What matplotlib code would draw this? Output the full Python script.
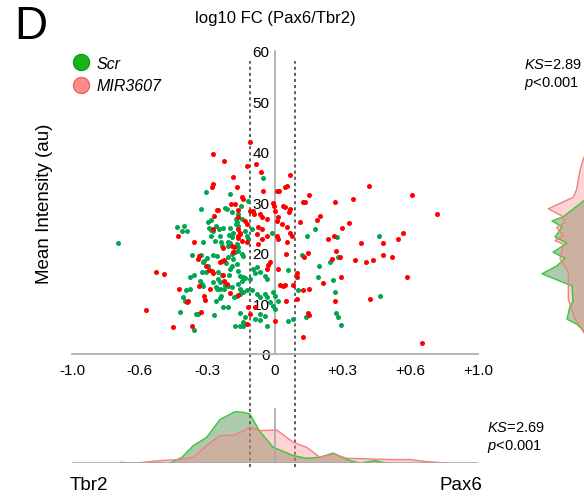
import numpy as np
import matplotlib
matplotlib.use('Agg')
import matplotlib.pyplot as plt
from matplotlib.lines import Line2D

plt.rcParams['font.family'] = 'Liberation Sans'
plt.rcParams['mathtext.fontset'] = 'custom'
plt.rcParams['mathtext.rm'] = 'Liberation Sans'
plt.rcParams['mathtext.it'] = 'Liberation Sans:italic'

# x axis: tick labels are evenly spaced although their values are not
tick_vals = [-1.0, -0.6, -0.3, 0.0, 0.3, 0.6, 1.0]
tick_labels = ['-1.0', '-0.6', '-0.3', '0', '+0.3', '+0.6', '+1.0']
tick_pos = [-3, -2, -1, 0, 1, 2, 3]
y_ticks = [0, 10, 20, 30, 40, 50, 60]
cutoffs = [-0.11, 0.09]

# Scr cells: log10 FC (Pax6/Tbr2) vs mean intensity
scr_x = [-0.729, -0.304, -0.198, -0.328, -0.222, -0.211, -0.192, -0.297, -0.282, -0.173,
         -0.433, -0.403, -0.411, -0.390, -0.294, -0.284, -0.273, -0.261, -0.247, -0.232,
         -0.199, -0.187, -0.202, -0.173, -0.163, -0.282, -0.266, -0.244, -0.192, -0.320,
         -0.239, -0.207, -0.236, -0.199, -0.210, -0.170, -0.163, -0.369, -0.328, -0.313,
         -0.300, -0.320, -0.273, -0.258, -0.207, -0.185, -0.192, -0.177, -0.217, -0.199,
         -0.192, -0.170, -0.163, -0.298, -0.325, -0.306, -0.251, -0.236, -0.202, -0.377,
         -0.359, -0.332, -0.325, -0.273, -0.251, -0.244, -0.222, -0.207, -0.192, -0.396,
         -0.377, -0.318, -0.261, -0.258, -0.244, -0.226, -0.180, -0.170, -0.406, -0.399,
         -0.261, -0.244, -0.241, -0.421, -0.350, -0.340, -0.269, -0.229, -0.207, -0.359,
         -0.177, -0.052, -0.121, -0.152, -0.163, -0.145, -0.170, -0.103, -0.133, -0.118,
         -0.125, -0.015, -0.163, -0.148, -0.140, -0.155, -0.140, -0.133, -0.148, -0.111,
         -0.096, -0.081, -0.089, -0.066, -0.044, -0.034, -0.163, -0.155, -0.140, -0.125,
         -0.155, -0.103, -0.081, -0.066, -0.044, -0.037, -0.008, 0.000, 0.059, 0.103,
         0.015, -0.022, -0.008, 0.000, -0.155, -0.133, -0.066, -0.044, -0.089, -0.037,
         0.059, 0.081, -0.155, 0.177, 0.143, 0.276, 0.461, 0.118, 0.244, 0.280,
         0.196, 0.190, 0.256, 0.266, 0.466, 0.136, 0.269, 0.278, 0.291, -0.140,
         -0.143, -0.066]
scr_y = [21.9, 32.0, 31.6, 28.7, 28.8, 28.7, 28.0, 26.0, 26.4, 26.7,
         25.0, 25.3, 24.2, 24.2, 24.8, 24.4, 24.2, 25.2, 24.6, 24.8,
         24.8, 23.9, 23.5, 25.6, 25.2, 23.4, 22.4, 23.4, 23.1, 22.1,
         22.1, 22.1, 21.4, 21.9, 21.3, 21.7, 21.1, 19.5, 19.5, 18.4,
         18.9, 18.2, 19.5, 19.4, 19.1, 18.8, 19.7, 20.1, 18.0, 16.8,
         17.4, 17.8, 16.4, 17.4, 16.1, 16.1, 16.2, 15.6, 15.6, 15.1,
         15.6, 14.4, 13.8, 14.2, 14.8, 14.2, 13.5, 13.3, 13.1, 12.5,
         12.8, 13.3, 13.1, 12.7, 12.8, 12.7, 11.2, 11.5, 11.3, 10.5,
         10.5, 11.0, 11.5, 8.2, 7.8, 7.8, 7.6, 9.2, 9.2, 4.7,
         5.4, 34.8, 30.3, 29.3, 27.7, 26.7, 26.0, 24.6, 24.2, 22.7,
         23.4, 24.0, 20.4, 19.7, 19.4, 15.4, 15.2, 14.9, 14.4, 14.8,
         16.8, 17.1, 15.9, 16.1, 15.4, 14.8, 13.8, 12.8, 12.1, 12.5,
         11.8, 12.5, 11.8, 11.2, 11.8, 11.2, 12.1, 11.5, 16.6, 12.5,
         10.5, 10.2, 9.5, 8.8, 8.0, 7.2, 7.8, 7.5, 6.8, 5.4,
         6.5, 6.8, 5.4, 24.6, 23.3, 23.2, 23.4, 19.6, 18.1, 19.2,
         17.3, 15.1, 14.6, 12.1, 11.5, 7.2, 8.0, 7.2, 5.7, 5.4,
         6.3, 6.7]

# MIR3607 cells
mir_x = [-0.527, -0.490, -0.571, -0.452, -0.276, -0.226, -0.187, -0.276, -0.280, -0.167,
         -0.194, -0.179, -0.258, -0.251, -0.165, -0.270, -0.165, -0.430, -0.276, -0.163,
         -0.359, -0.155, -0.229, -0.189, -0.180, -0.187, -0.335, -0.340, -0.244, -0.236,
         -0.226, -0.306, -0.291, -0.280, -0.273, -0.232, -0.226, -0.211, -0.424, -0.335,
         -0.288, -0.199, -0.391, -0.384, -0.313, -0.310, -0.329, -0.369, -0.111, -0.083,
         -0.125, -0.062, 0.066,
         0.010, 0.018, 0.044, 0.052, -0.052, -0.148, -0.140, -0.010, -0.003, 0.037,
         0.044, 0.066, 0.062, 0.125, -0.111, -0.096, -0.092, -0.066, -0.059, -0.037,
         0.000, 0.015, 0.008, -0.133, -0.125, 0.030, 0.052, -0.074, -0.059, 0.111,
         -0.165, -0.155, -0.165, -0.081, -0.059, -0.037, 0.066, 0.074, 0.008, 0.015,
         -0.148, -0.125, -0.077, 0.052, 0.049, -0.037, -0.030, -0.022, 0.015, 0.096,
         0.096, -0.163, 0.022, 0.037, 0.044, 0.081, 0.049, 0.096, -0.118, -0.089,
         -0.111, 0.000, -0.125, 0.125, 0.416, 0.608, 0.755, 0.151, 0.133, 0.266,
         0.347, 0.187, 0.199, 0.328, 0.298, 0.236, 0.263, 0.381, 0.568, 0.546,
         0.480, 0.270, 0.251, 0.145, 0.130, 0.288, 0.354, 0.403, 0.435, 0.477,
         0.517, 0.214, 0.294, 0.586, 0.267, 0.422, 0.152, 0.123, 0.148, 0.152, 0.670]
mir_y = [16.1, 15.7, 8.6, 5.3, 39.6, 38.1, 35.0, 33.6, 33.1, 33.1,
         29.6, 29.6, 28.5, 28.5, 28.5, 27.3, 27.0, 23.4, 24.6, 22.9,
         22.1, 23.7, 20.9, 21.4, 21.1, 20.1, 19.3, 18.8, 18.1, 18.4,
         18.6, 17.3, 16.6, 16.4, 15.9, 15.6, 14.4, 13.8, 12.8, 13.3,
         12.7, 12.0, 10.2, 10.5, 11.5, 10.6, 8.2, 5.5, 42.0, 37.6,
         37.1, 36.0, 35.4,
         32.3, 32.3, 33.0, 33.3, 32.2, 31.0, 30.7, 29.8, 29.3, 29.3,
         29.0, 28.7, 28.0, 30.0, 28.3, 28.3, 27.7, 27.7, 27.0, 26.7,
         28.3, 27.0, 26.3, 26.3, 25.7, 25.7, 25.0, 25.0, 24.7, 26.0,
         24.7, 24.0, 23.4, 23.7, 22.7, 23.4, 24.0, 23.4, 23.4, 22.7,
         22.4, 22.2, 21.7, 22.1, 19.7, 16.8, 17.6, 18.1, 16.8, 15.9,
         15.2, 11.6, 13.5, 13.3, 13.5, 13.6, 10.4, 10.8, 9.2, 9.2,
         7.8, 6.5, 5.9, 3.2, 33.2, 31.4, 27.7, 31.4, 30.1, 30.0,
         30.7, 26.5, 27.2, 25.8, 24.8, 22.7, 23.4, 21.9, 24.0, 22.7,
         21.9, 20.4, 18.8, 19.9, 19.1, 19.1, 18.6, 18.1, 18.6, 19.5,
         19.1, 14.0, 15.2, 15.1, 10.4, 10.8, 12.8, 12.6, 8.0, 7.7, 2.1]

# marginal distributions of log10 FC (bottom)
scr_fc_x = [-0.710, -0.647, -0.465, -0.413, -0.362, -0.303, -0.244, -0.177, -0.140, -0.111,
            -0.070, -0.008, 0.081, 0.140, 0.199, 0.258, 0.281, 0.332, 0.376, 0.443, 0.494, 0.524]
scr_fc_h = [1, 0.3, 0.3, 6, 17.7, 26, 43.7, 51.7, 51, 49.3,
            32.7, 16, 7.7, 5, 6, 10.3, 7.7, 2.7, 0.3, 2.7, 0.3, 0]
mir_fc_x = [-0.617, -0.509, -0.421, -0.362, -0.303, -0.244, -0.177, -0.111, -0.066, 0.008,
            0.081, 0.140, 0.199, 0.258, 0.317, 0.435, 0.524, 0.598, 0.696, 0.814]
mir_fc_h = [0.3, 2.7, 3.7, 6, 17.7, 27.7, 28.3, 36, 32.7, 33.3,
            21, 16, 6, 9.3, 5, 4.3, 3.7, 3.7, 1.7, 0.3]

# marginal distributions of intensity (right, mostly cut off)
mir_int_y = [40.5, 38.6, 36.3, 32.6, 31.0, 28.7, 27.3, 26.0, 25.0, 23.4,
             22.4, 21.7, 18.8, 16.1, 10.8, 6.8, 5.5, 4.3, 3.0]
mir_int_h = [12, 16.7, 20, 23.3, 26.7, 51.7, 38.3, 35, 43.3, 36.7,
             45, 36.7, 40, 31.7, 31.7, 25, 20, 16.7, 12]
scr_int_y = [31.0, 29.7, 27.1, 26.3, 25.1, 23.1, 21.9, 20.1, 18.9, 17.4,
             15.8, 13.4, 10.2, 9.4, 6.8, 5.8, 4.6, 3.5]
scr_int_h = [12, 20, 37, 48, 38, 45, 33, 47, 35, 43,
             58, 28, 27, 30, 33, 23, 17, 12]


def fwd(v):
    return np.interp(v, tick_vals, tick_pos)


def inv(p):
    return np.interp(p, tick_pos, tick_vals)


W, H = 584, 502
fig = plt.figure(figsize=(W / 100, H / 100), dpi=100)

grey = '#a8a8a8'
green_pt = '#00a650'
red_pt = '#ff0000'

# main scatter
ax = fig.add_axes([72 / W, (H - 354.5) / H, 406 / W, 302.5 / H])
ax.set_xscale('function', functions=(fwd, inv))
ax.set_xlim(-1, 1)
ax.set_ylim(0, 60)
ax.scatter(scr_x, scr_y, s=13, color=green_pt, linewidths=0, zorder=3)
ax.scatter(mir_x, mir_y, s=13, color=red_pt, linewidths=0, zorder=3)
for s in ['top', 'right']:
    ax.spines[s].set_visible(False)
ax.spines['left'].set_position(('data', 0))
for s in ['left', 'bottom']:
    ax.spines[s].set_color(grey)
    ax.spines[s].set_linewidth(1.2)
ax.set_xticks(tick_vals)
ax.set_xticklabels(tick_labels)
ax.set_yticks(y_ticks)
ax.set_yticklabels([str(t) for t in y_ticks])
ax.tick_params(axis='both', length=0, labelsize=11)
ax.tick_params(axis='x', pad=7)
ax.tick_params(axis='y', pad=4)
ax.patch.set_visible(False)
for c in cutoffs:
    ax.axvline(c, ymin=-0.375, ymax=0.967, clip_on=False, color='#333333',
               lw=1.1, ls=(0, (2, 2)), zorder=1)

# bottom marginal
axb = fig.add_axes([72 / W, (H - 464.3) / H, 406 / W, 64.3 / H])
axb.set_xscale('function', functions=(fwd, inv))
axb.set_xlim(-1, 1)
axb.set_ylim(0, 64.3)
axb.fill_between(scr_fc_x, 0, scr_fc_h, facecolor='#3f7f3f', alpha=0.42,
                 edgecolor='none')
axb.plot(scr_fc_x, scr_fc_h, color='#33cc33', lw=1)
axb.fill_between(mir_fc_x, 0, mir_fc_h, facecolor='#ff8c8c', alpha=0.38,
                 edgecolor='none')
axb.plot(mir_fc_x, mir_fc_h, color='#f08080', lw=1)
axb.axhline(0, color=grey, lw=1.2)
axb.plot([0, 0], [0, 54], color=grey, lw=1.2)
axb.axis('off')

# right marginal (cut by the figure edge)
axr = fig.add_axes([530 / W, (H - 354.5) / H, 70 / W, 302.5 / H])
axr.set_xlim(70, 0)
axr.set_ylim(0, 60)
axr.fill_betweenx(scr_int_y, 0, scr_int_h, facecolor='#3f7f3f', alpha=0.42,
                  edgecolor='none')
axr.plot(scr_int_h, scr_int_y, color='#33cc33', lw=1)
axr.fill_betweenx(mir_int_y, 0, mir_int_h, facecolor='#ff8c8c', alpha=0.38,
                  edgecolor='none')
axr.plot(mir_int_h, mir_int_y, color='#f08080', lw=1)
axr.axis('off')

# texts
fig.text(14 / W, 1 - 27 / H, 'D', fontsize=33, ha='left', va='center')
fig.text(275 / W, 1 - 18 / H, 'log10 FC (Pax6/Tbr2)', fontsize=12,
         ha='center', va='center')
fig.text(45 / W, 1 - 204 / H, 'Mean Intensity (au)', fontsize=13.5,
         rotation=90, ha='center', va='center')
fig.text(70 / W, 1 - 486 / H, 'Tbr2', fontsize=13.5, ha='left', va='center')
fig.text(482 / W, 1 - 486 / H, 'Pax6', fontsize=13.5, ha='right', va='center')
fig.text(487 / W, 1 - 428 / H, r'$\mathit{KS}$=2.69', fontsize=10.5,
         ha='left', va='center')
fig.text(487 / W, 1 - 447 / H, r'$\mathit{p}$<0.001', fontsize=10.5,
         ha='left', va='center')
fig.text(524 / W, 1 - 65 / H, r'$\mathit{KS}$=2.89', fontsize=10.5,
         ha='left', va='center')
fig.text(524 / W, 1 - 83 / H, r'$\mathit{p}$<0.001', fontsize=10.5,
         ha='left', va='center')

handles = [Line2D([], [], ls='', marker='o', markersize=11.5,
                  markerfacecolor='#19b419', markeredgecolor='#0a9a0a'),
           Line2D([], [], ls='', marker='o', markersize=11.5,
                  markerfacecolor='#ff8c8c', markeredgecolor='#f06060')]
fig.legend(handles, ['Scr', 'MIR3607'], loc='upper left',
           bbox_to_anchor=(73 / W, 1 - 57 / H), frameon=False,
           prop={'style': 'italic', 'size': 11.5}, handlelength=1.0,
           handletextpad=0.5, labelspacing=0.45, borderpad=0, borderaxespad=0)

fig.savefig('out.png', dpi=100)
plt.close('all')
